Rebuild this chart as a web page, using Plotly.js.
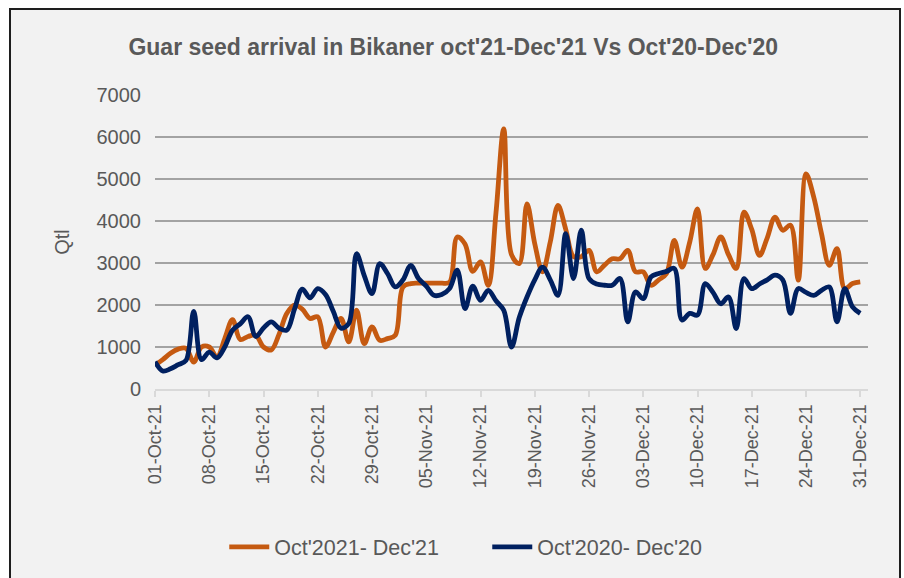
<!DOCTYPE html>
<html>
<head>
<meta charset="utf-8">
<script src="https://cdn.plot.ly/plotly-3.0.1.min.js"></script>
<style>
  html, body { margin: 0; padding: 0; background: #ffffff; width: 904px; height: 578px; overflow: hidden; }
  #frame { position: absolute; left: 9px; top: 8px; width: 888px; height: 570px; border: 2px solid #1e1e1e; background: #f2f2f2; }
  #chart { width: 888px; height: 570px; }
</style>
</head>
<body>
<div id="frame"><div id="chart"></div></div>
<script>
// Daily arrivals (Qtl), 01-Oct to 31-Dec
const startDate = "2021-10-01";
const nDays = 92;

const arrivals2021 = [
  570, 700, 850, 950, 970, 640, 1000, 1000, 760, 1200,
  1650, 1180, 1250, 1280, 1000, 930, 1300, 1800, 2000, 1900,
  1680, 1720, 1000, 1350, 1680, 1120, 1875, 1080, 1480, 1160,
  1200, 1280, 2430, 2510, 2520, 2520, 2520, 2520, 2540, 3620,
  3450, 2800, 3025, 2470, 4200, 6190, 3200, 2985, 4410, 3460,
  2790, 3500, 4370, 3800, 3150, 3150, 3300, 2790, 2950, 3100,
  3100, 3300, 2790, 2790, 2470, 2600, 2750, 3540, 2900, 3500,
  4290, 2870, 3200, 3620, 3200, 2870, 4210, 3800, 3180, 3600,
  4090, 3780, 3900, 2590, 5120, 4570, 3700, 2945, 3340, 2390,
  2510, 2550
];

const arrivals2020 = [
  650, 430, 480, 580, 680, 1850, 700, 880, 740, 1000,
  1400, 1550, 1720, 1250, 1450, 1600, 1450, 1400, 1900, 2380,
  2170, 2390, 2250, 1850, 1450, 1560, 3220, 2700, 2270, 2985,
  2750, 2430, 2600, 2945, 2630, 2450, 2230, 2250, 2390, 2830,
  1915, 2450, 2110, 2350, 2100, 1875, 1000, 1700, 2190, 2600,
  2900, 2600, 2230, 3700, 2630, 3780, 2630, 2500, 2470, 2470,
  2630, 1600, 2310, 2150, 2670, 2750, 2800, 2870, 1640, 1800,
  1760, 2510, 2300, 2030, 2190, 1440, 2630, 2390, 2500, 2600,
  2710, 2600, 1800, 2390, 2300, 2230, 2350, 2430, 1600, 2390,
  1955, 1800
];

const tickDates = ["2021-10-01","2021-10-08","2021-10-15","2021-10-22","2021-10-29",
  "2021-11-05","2021-11-12","2021-11-19","2021-11-26","2021-12-03","2021-12-10",
  "2021-12-17","2021-12-24","2021-12-31"];
const tickLabels = ["01-Oct-21","08-Oct-21","15-Oct-21","22-Oct-21","29-Oct-21",
  "05-Nov-21","12-Nov-21","19-Nov-21","26-Nov-21","03-Dec-21","10-Dec-21",
  "17-Dec-21","24-Dec-21","31-Dec-21"];

const seriesNames = ["Oct'2021- Dec'21", "Oct'2020- Dec'20"];
const seriesColors = ["#c55a11", "#002060"];

const dates = [];
const d0 = new Date(startDate + "T00:00:00Z");
for (let i = 0; i < nDays; i++) {
  const d = new Date(d0.getTime() + i * 86400000);
  dates.push(d.toISOString().slice(0, 10));
}

const traces = [arrivals2021, arrivals2020].map((ys, k) => ({
  x: dates, y: ys, type: "scatter", mode: "lines", name: seriesNames[k],
  line: { color: seriesColors[k], width: 4.8, shape: "spline", smoothing: 1 },
  hoverinfo: "skip"
}));

const font = "'Liberation Sans', Arial, sans-serif";
const layout = {
  width: 888, height: 570,
  paper_bgcolor: "#f2f2f2", plot_bgcolor: "#f2f2f2",
  margin: { l: 144, r: 31, t: 85, b: 191 },
  title: {
    text: "<b>Guar seed arrival in Bikaner oct'21-Dec'21 Vs Oct'20-Dec'20</b>",
    font: { family: font, size: 23, color: "#595959" },
    x: 0.498, xanchor: "center", xref: "container", y: 0.935, yanchor: "middle", yref: "container"
  },
  xaxis: {
    type: "date", range: ["2021-10-01", "2022-01-01"],
    tickmode: "array", tickvals: tickDates, ticktext: tickLabels, tickangle: -90,
    showgrid: false, showline: true, linecolor: "#d9d9d9", linewidth: 2,
    ticks: "outside", ticklen: 6, tickcolor: "#d9d9d9", tickwidth: 2,
    tickfont: { family: font, size: 18, color: "#595959" }, fixedrange: true
  },
  yaxis: {
    range: [0, 7000], tickmode: "array", tickvals: [0,1000,2000,3000,4000,5000,6000,7000],
    ticktext: ["0","1000","2000","3000","4000","5000","6000","7000"],
    showgrid: true, gridcolor: "#a3a3a3", gridwidth: 1.5,
    zeroline: true, zerolinecolor: "#d9d9d9", zerolinewidth: 2,
    showline: false, ticks: "", ticklabelstandoff: 13,
    tickfont: { family: font, size: 20, color: "#595959" },
    title: { text: "Qtl", font: { family: font, size: 20, color: "#595959" }, standoff: 21 },
    fixedrange: true
  },
  showlegend: true,
  legend: {
    orientation: "h", x: 0.466, xanchor: "center", y: -0.537, yanchor: "middle",
    font: { family: font, size: 21.5, color: "#595959" }, bgcolor: "rgba(0,0,0,0)",
    itemwidth: 40, entrywidth: 208, tracegroupgap: 0
  }
};

Plotly.newPlot("chart", traces, layout, { displayModeBar: false, staticPlot: true });
</script>
</body>
</html>
